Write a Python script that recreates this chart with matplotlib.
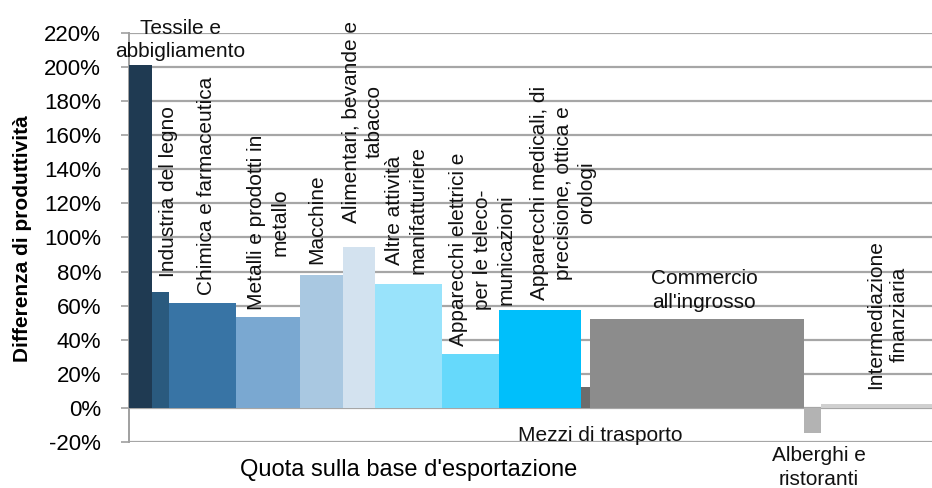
import matplotlib
matplotlib.use("Agg")
import matplotlib.pyplot as plt
import numpy as np
from matplotlib.ticker import FuncFormatter, MultipleLocator

plt.rcParams["font.family"] = ["Liberation Sans", "DejaVu Sans"]

# sectors, share of the export base (bar width, %) and productivity gap (bar height, %)
sectors = [
    "Tessile e\nabbigliamento",
    "Industria del legno",
    "Chimica e farmaceutica",
    "Metalli e prodotti in\nmetallo",
    "Macchine",
    "Alimentari, bevande e\ntabacco",
    "Altre attività\nmanifatturiere",
    "Apparecchi elettrici e\nper le teleco-\nmunicazioni",
    "Apparecchi medicali, di\nprecisione, ottica e\norologi",
    "Mezzi di trasporto",
    "Commercio\nall'ingrosso",
    "Alberghi e\nristoranti",
    "Intermediazione\nfinanziaria",
]
share = [2.9, 2.1, 8.3, 8.0, 5.4, 3.9, 8.4, 7.1, 10.2, 1.1, 26.7, 2.1, 13.8]
gap = [201, 68, 61.5, 53.5, 78, 94.5, 72.5, 31.5, 57.5, 12.3, 52, -15, 2.3]

colors = ["#1f3a52", "#2a5a7e", "#3874a5", "#7aa8d1", "#a9c8e1", "#d3e2ef",
          "#99e3fb", "#66d9fb", "#00bffb", "#6c6c6c", "#8c8c8c", "#b3b3b3", "#d0d0d0"]

# label placement: (x, y, rotation) in data units
label_pos = [
    (6.4, 216, 0), (4.9, 127, 90), (9.7, 130, 90), (17.3, 109, 90),
    (23.4, 111, 90), (29.1, 168, 90), (34.5, 116, 90), (44.0, 93, 90),
    (54.1, 126, 90), (58.7, -16, 0), (71.6, 69, 0), (85.9, -35, 0),
    (94.4, 55, 90),
]

fig = plt.figure(figsize=(9.32, 4.88), dpi=100)
ax = fig.add_axes([0.1384, 0.0943, 0.8616, 0.8381])

lefts = np.concatenate([[0], np.cumsum(share)[:-1]])
ax.bar(lefts, gap, width=share, align="edge", color=colors, linewidth=0, zorder=3)

for name, (x, y, rot) in zip(sectors, label_pos):
    ax.text(x, y, name, rotation=rot, ha="center", va="center",
            multialignment="center", fontsize=15, color="#111111",
            linespacing=1.3, clip_on=False, zorder=4)

ax.set_xlim(0, 100)
ax.set_ylim(-20, 220)
ax.yaxis.set_major_locator(MultipleLocator(20))
ax.yaxis.set_major_formatter(FuncFormatter(lambda v, p: f"{v:.0f}%"))
ax.tick_params(axis="y", labelsize=16, length=6, width=1.2, color="#a0a0a0", pad=14)
ax.set_xticks([])
ax.grid(axis="y", color="#a6a6a6", linewidth=1.6, zorder=1)
for s in ["top", "right", "bottom"]:
    ax.spines[s].set_visible(False)
ax.spines["left"].set_color("#a0a0a0")
ax.spines["left"].set_linewidth(1.4)

fig.text(0.024, 0.51, "Differenza di produttività", rotation=90, ha="center", va="center",
         fontsize=15, fontweight="bold")
fig.text(0.438, 0.037, "Quota sulla base d'esportazione", ha="center", va="center",
         fontsize=17)

fig.savefig("out.png", dpi=100)
